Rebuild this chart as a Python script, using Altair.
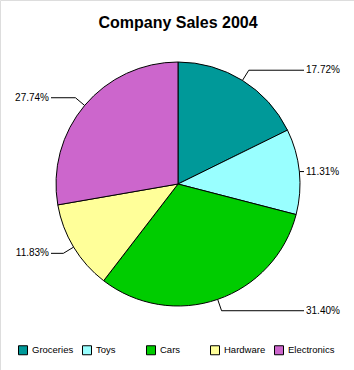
import math
import altair as alt
import pandas as pd

# ---- data ----
categories = ["Groceries", "Toys", "Cars", "Hardware", "Electronics"]
shares = [17.72, 11.31, 31.40, 11.83, 27.74]
colors = ["#009999", "#99ffff", "#00cc00", "#ffff99", "#cc66cc"]
title_text = "Company Sales 2004"

# ---- layout constants ----
W, H = 354, 370
CX, CY, R = 178, 184, 122
ELBOW = 12
RIGHT_END, LEFT_END = 304, 51
FONT = "Liberation Sans"

pie_df = pd.DataFrame({"category": categories, "share": shares, "idx": range(len(categories))})

# leader lines and labels derived from the shares
total = sum(shares)
line_rows, label_rows = [], []
cum = 0.0
for cat, v in zip(categories, shares):
    mid = (cum + v / 2) / total * 2 * math.pi
    cum += v
    s, c = math.sin(mid), math.cos(mid)
    x0, y0 = CX + R * s, CY - R * c
    if abs(s) > 0.95:
        x1, y1 = x0, y0
    else:
        x1, y1 = CX + (R + ELBOW) * s, CY - (R + ELBOW) * c
    right = s >= 0
    x2 = RIGHT_END if right else LEFT_END
    for k, (px, py) in enumerate([(x0, y0), (x1, y1), (x2, y1)]):
        line_rows.append({"category": cat, "k": k, "x": px, "y": py})
    label_rows.append({"category": cat, "x": x2 + (2 if right else -2), "y": y1,
                       "label": f"{v:.2f}%", "side": "right" if right else "left"})
lines_df = pd.DataFrame(line_rows)
labels_df = pd.DataFrame(label_rows)

xs = alt.Scale(domain=[0, W], range=[0, W])
ys = alt.Scale(domain=[0, H], range=[0, H])

pie = alt.Chart(pie_df).mark_arc(outerRadius=R, stroke="black", strokeWidth=1).encode(
    theta=alt.Theta("share:Q", stack=True),
    order=alt.Order("idx:Q"),
    color=alt.Color(
        "category:N",
        scale=alt.Scale(domain=categories, range=colors),
        legend=alt.Legend(
            title=None, orient="none", legendX=18, legendY=345,
            direction="horizontal", columns=5, symbolType="square",
            symbolSize=81, symbolStrokeColor="black", symbolStrokeWidth=1,
            labelFontSize=9.5, labelFont=FONT, labelColor="black", labelOffset=4,
            gridAlign="all", columnPadding=1,
        ),
    ),
    x=alt.value(CX),
    y=alt.value(CY),
)

leaders = alt.Chart(lines_df).mark_line(color="black", strokeWidth=1).encode(
    x=alt.X("x:Q", scale=xs, axis=None),
    y=alt.Y("y:Q", scale=ys, axis=None),
    detail="category:N",
    order="k:Q",
)

right_labels = alt.Chart(labels_df).transform_filter(alt.datum.side == "right").mark_text(
    align="left", baseline="middle", font=FONT, fontSize=10, color="black"
).encode(x=alt.X("x:Q", scale=xs, axis=None), y=alt.Y("y:Q", scale=ys, axis=None), text="label:N")

left_labels = alt.Chart(labels_df).transform_filter(alt.datum.side == "left").mark_text(
    align="right", baseline="middle", font=FONT, fontSize=10, color="black"
).encode(x=alt.X("x:Q", scale=xs, axis=None), y=alt.Y("y:Q", scale=ys, axis=None), text="label:N")

title = alt.Chart(pd.DataFrame({"t": [title_text]})).mark_text(
    font=FONT, fontSize=16, fontWeight="bold", color="black", baseline="middle", align="center"
).encode(x=alt.value(178), y=alt.value(23), text="t:N")

chart = alt.layer(pie, leaders, right_labels, left_labels, title).properties(
    width=W, height=H, padding=0, autosize=alt.AutoSizeParams(type="none")
).configure_view(stroke=None).configure(background="white")

chart.save("out.html", embed_options={"renderer": "svg", "actions": False})
